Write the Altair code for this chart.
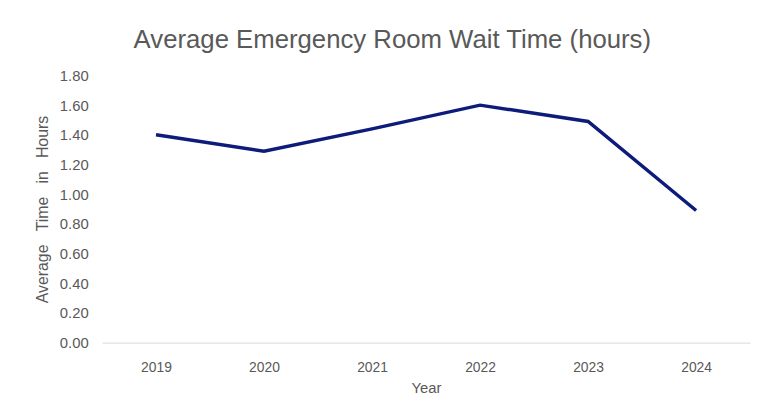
import altair as alt
import pandas as pd

years = ["2019", "2020", "2021", "2022", "2023", "2024"]
wait_hours = [1.40, 1.29, 1.44, 1.60, 1.49, 0.89]

df = pd.DataFrame({"Year": years, "Hours": wait_hours})

FONT = "Liberation Sans"
GRAY = "#595959"
GAP = "\u00a0\u00a0\u00a0"

chart = (
    alt.Chart(df)
    .mark_line(color="#0d1b7a", strokeWidth=3.5)
    .encode(
        x=alt.X(
            "Year:O",
            sort=years,
            scale=alt.Scale(type="point", padding=0.5),
            axis=alt.Axis(
                title="Year",
                labelAngle=0,
                ticks=False,
                domainColor="#d9d9d9",
                domainWidth=1,
                labelPadding=18,
                titlePadding=6,
                labelFontSize=14,
                titleFontSize=15,
                labelColor=GRAY,
                titleColor=GRAY,
                labelFont=FONT,
                titleFont=FONT,
                titleFontWeight="normal",
            ),
        ),
        y=alt.Y(
            "Hours:Q",
            scale=alt.Scale(domain=[0, 1.8], nice=False),
            axis=alt.Axis(
                title=f"Average{GAP}Time{GAP}in{GAP}Hours",
                values=[0, 0.2, 0.4, 0.6, 0.8, 1.0, 1.2, 1.4, 1.6, 1.8],
                format=".2f",
                grid=False,
                domain=False,
                ticks=False,
                labelPadding=14,
                titlePadding=9,
                labelFontSize=15,
                titleFontSize=16,
                labelColor=GRAY,
                titleColor=GRAY,
                labelFont=FONT,
                titleFont=FONT,
                titleFontWeight="normal",
            ),
        ),
    )
    .properties(
        width=655,
        height=270,
        background="white",
        autosize=alt.AutoSizeParams(type="none"),
        padding={"left": 95, "top": 66, "right": 11, "bottom": 75},
        title=alt.TitleParams(
            "Average Emergency Room Wait Time (hours)",
            font=FONT,
            fontSize=26,
            fontWeight="normal",
            color=GRAY,
            anchor="middle",
            frame="bounds",
            offset=16,
        ),
    )
    .configure_view(strokeWidth=0, stroke="transparent")
)

chart.save("out.html", embed_options={"renderer": "svg", "actions": False})
